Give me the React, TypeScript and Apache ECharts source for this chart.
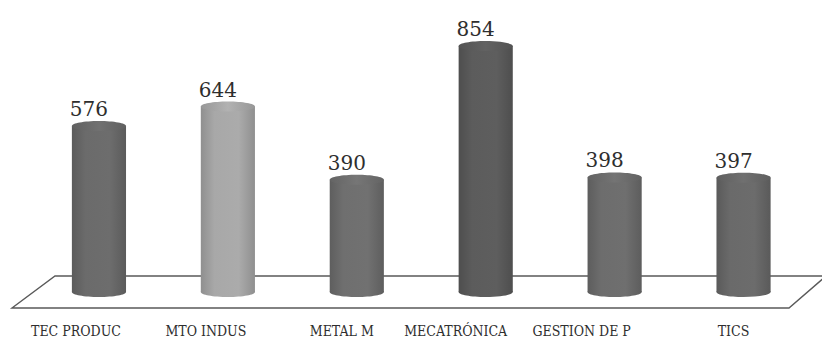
import React, { useEffect, useRef } from "react";
import * as echarts from "echarts";

const categories = ["TEC PRODUC", "MTO INDUS", "METAL M", "MECATRÓNICA", "GESTION DE P", "TICS"];
const values = [576, 644, 390, 854, 398, 397];

const BAR_COLORS = ["#6b6b6b", "#a8a8a8", "#6f6f6f", "#5c5c5c", "#6d6d6d", "#6a6a6a"];
const LABEL_SHIFT = [-23, -22, -15, -30, -33, -10];

function shade(hex: string, f: number) {
  const n = parseInt(hex.slice(1), 16);
  const r = Math.min(255, Math.round(((n >> 16) & 255) * f));
  const g = Math.min(255, Math.round(((n >> 8) & 255) * f));
  const b = Math.min(255, Math.round((n & 255) * f));
  return `rgb(${r},${g},${b})`;
}

export default function App() {
  const ref = useRef<HTMLDivElement>(null);
  useEffect(() => {
    document.body.style.margin = "0";
    const chart = echarts.init(ref.current!, null, { renderer: "svg" });
    const rich: Record<string, any> = {};
    categories.forEach((_, i) => {
      const d = LABEL_SHIFT[i];
      rich["c" + i] = {
        fontFamily: "'DejaVu Serif Condensed', 'Liberation Serif', serif",
        fontSize: 14,
        color: "#2e2e2e",
        padding: d < 0 ? [0, -2 * d, 0, 0] : [0, 0, 0, 2 * d],
      };
    });
    chart.setOption({
      animation: false,
      backgroundColor: "#fff",
      grid: { left: 34.5, right: 14, top: 4, bottom: 46 },
      xAxis: {
        type: "category",
        data: categories,
        axisLine: { show: false },
        axisTick: { show: false },
        axisLabel: {
          margin: 32,
          interval: 0,
          formatter: (val: string) => {
            const i = categories.indexOf(val);
            return `{c${i}|${val}}`;
          },
          rich,
        },
      },
      yAxis: {
        type: "value",
        min: 0,
        max: 1000,
        show: false,
        splitLine: { show: false },
      },
      graphic: [
        {
          type: "polygon",
          z: -10,
          shape: { points: [[55, 276], [826, 276], [789, 308], [12, 308]] },
          style: { fill: "#fff", stroke: "#5a5a5a", lineWidth: 1.4 },
        },
      ],
      series: [
        {
          type: "custom",
          data: values.map((v, i) => [i, v]),
          encode: { x: 0, y: 1 },
          renderItem: (params: any, api: any) => {
            const idx = params.dataIndex;
            const v = api.value(1);
            const top = api.coord([api.value(0), v]);
            const base = api.coord([api.value(0), 0]);
            const w = api.size([1, 0])[0] * 0.42;
            const cx = top[0];
            const rx = w / 2;
            const ry = 5;
            const c = BAR_COLORS[idx];
            const fill = new echarts.graphic.LinearGradient(0, 0, 1, 0, [
              { offset: 0, color: shade(c, 0.85) },
              { offset: 0.25, color: shade(c, 1.0) },
              { offset: 0.7, color: shade(c, 1.02) },
              { offset: 1, color: shade(c, 0.85) },
            ]);
            const topFill = new echarts.graphic.LinearGradient(0, 0, 1, 0, [
              { offset: 0, color: shade(c, 0.9) },
              { offset: 0.5, color: shade(c, 1.06) },
              { offset: 1, color: shade(c, 0.9) },
            ]);
            return {
              type: "group",
              children: [
                { type: "ellipse", shape: { cx, cy: base[1], rx, ry }, style: { fill } },
                {
                  type: "rect",
                  shape: { x: cx - rx, y: top[1], width: w, height: base[1] - top[1] },
                  style: { fill },
                },
                { type: "ellipse", shape: { cx, cy: top[1], rx, ry }, style: { fill: topFill } },
                {
                  type: "text",
                  x: cx - 10,
                  y: top[1] - ry - 2,
                  style: {
                    text: String(v),
                    fill: "#2e2e2e",
                    font: "20px 'DejaVu Serif', serif",
                    align: "center",
                    verticalAlign: "bottom",
                    textAlign: "center",
                    textVerticalAlign: "bottom",
                  },
                },
              ],
            };
          },
        },
      ],
    });
    return () => chart.dispose();
  }, []);
  return <div ref={ref} style={{ width: 822, height: 338, position: "fixed", left: 0, top: 0 }} />;
}
